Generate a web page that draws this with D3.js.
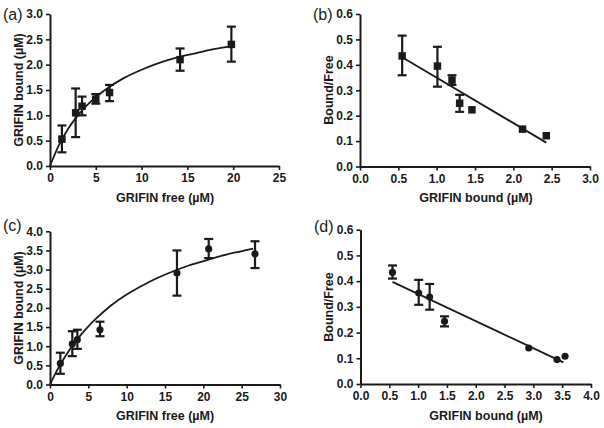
<!DOCTYPE html>
<html><head><meta charset="utf-8">
<script src="https://cdn.jsdelivr.net/npm/d3@7"></script>
<style>body{margin:0;background:#fff}svg{display:block}text{font-family:"Liberation Sans",Arial,sans-serif}</style>
</head><body>
<svg id="c" width="604" height="428"></svg>
<script>
// Panel (a): saturation binding, squares
const aX = [1.3, 2.8, 3.5, 5.0, 6.5, 14.2, 19.8];
const aY = [0.53, 1.05, 1.18, 1.32, 1.45, 2.10, 2.40];
const aLo = [0.27, 0.57, 1.00, 1.23, 1.28, 1.88, 2.06];
const aHi = [0.80, 1.53, 1.37, 1.42, 1.60, 2.32, 2.75];
const aFitX = [0, 1, 2, 3, 4, 5, 6, 8, 10, 12, 14, 16, 18, 20];
const aFitY = [0, 0.42, 0.74, 0.99, 1.19, 1.36, 1.50, 1.73, 1.90, 2.04, 2.15, 2.23, 2.31, 2.37];
const aXTicks = [0, 5, 10, 15, 20, 25];
const aYTicks = [0, 0.5, 1.0, 1.5, 2.0, 2.5, 3.0];

// Panel (b): Scatchard, squares
const bX = [0.55, 1.01, 1.20, 1.30, 1.46, 2.12, 2.43];
const bY = [0.435, 0.395, 0.340, 0.249, 0.223, 0.147, 0.121];
const bLo = [0.359, 0.314, 0.321, 0.215, null, null, null];
const bHi = [0.515, 0.471, 0.359, 0.282, null, null, null];
const bFitX = [0.55, 2.43];
const bFitY = [0.430, 0.094];
const bXTicks = [0, 0.5, 1.0, 1.5, 2.0, 2.5, 3.0];
const bYTicks = [0, 0.1, 0.2, 0.3, 0.4, 0.5, 0.6];

// Panel (c): saturation binding, circles
const cX = [1.35, 2.91, 3.57, 6.52, 16.56, 20.7, 26.74];
const cY = [0.55, 1.06, 1.17, 1.43, 2.91, 3.54, 3.41];
const cLo = [0.28, 0.74, 0.93, 1.26, 2.32, 3.30, 3.04];
const cHi = [0.83, 1.39, 1.43, 1.64, 3.50, 3.80, 3.74];
const cFitX = [0, 1, 2, 3, 4, 5, 6, 8, 10, 12, 14, 16, 18, 20, 22, 24, 26.5];
const cFitY = [0, 0.40, 0.74, 1.04, 1.29, 1.52, 1.72, 2.07, 2.35, 2.58, 2.78, 2.95, 3.10, 3.22, 3.34, 3.44, 3.55];
const cXTicks = [0, 5, 10, 15, 20, 25, 30];
const cYTicks = [0, 0.5, 1.0, 1.5, 2.0, 2.5, 3.0, 3.5, 4.0];

// Panel (d): Scatchard, circles
const dX = [0.555, 1.01, 1.20, 1.458, 2.92, 3.41, 3.55];
const dY = [0.434, 0.354, 0.338, 0.244, 0.140, 0.095, 0.108];
const dLo = [0.410, 0.308, 0.289, 0.224, null, null, null];
const dHi = [0.461, 0.405, 0.389, 0.263, null, null, null];
const dFitX = [0.555, 3.52];
const dFitY = [0.397, 0.084];
const dXTicks = [0, 0.5, 1.0, 1.5, 2.0, 2.5, 3.0, 3.5, 4.0];
const dYTicks = [0, 0.1, 0.2, 0.3, 0.4, 0.5, 0.6];

const svg = d3.select("#c");

const panels = [
  {lab:"(a)", xs:aX, ys:aY, lo:aLo, hi:aHi, fx:aFitX, fy:aFitY, xt:aXTicks, yt:aYTicks, xd:[0,25], yd:[0,3],
   xr:[50,279], yr:[166,14], fmtX:d3.format("d"), fmtY:d3.format(".1f"), mk:"square", smooth:true,
   xtitle:"GRIFIN free (\u00b5M)", ytitle:"GRIFIN bound (\u00b5M)", labPos:[3,20], xtPos:[165,202], ytPos:[19,90]},
  {lab:"(b)", xs:bX, ys:bY, lo:bLo, hi:bHi, fx:bFitX, fy:bFitY, xt:bXTicks, yt:bYTicks, xd:[0,3], yd:[0,0.6],
   xr:[360,590], yr:[166.5,14], fmtX:d3.format(".1f"), fmtY:d3.format(".1f"), mk:"square", smooth:false,
   xtitle:"GRIFIN bound (\u00b5M)", ytitle:"Bound/Free", labPos:[313,20], xtPos:[476,202], ytPos:[329,90]},
  {lab:"(c)", xs:cX, ys:cY, lo:cLo, hi:cHi, fx:cFitX, fy:cFitY, xt:cXTicks, yt:cYTicks, xd:[0,30], yd:[0,4],
   xr:[50,280], yr:[384.5,231.3], fmtX:d3.format("d"), fmtY:d3.format(".1f"), mk:"circle", smooth:true,
   xtitle:"GRIFIN free (\u00b5M)", ytitle:"GRIFIN bound (\u00b5M)", labPos:[3,231], xtPos:[165,420], ytPos:[19,308]},
  {lab:"(d)", xs:dX, ys:dY, lo:dLo, hi:dHi, fx:dFitX, fy:dFitY, xt:dXTicks, yt:dYTicks, xd:[0,4], yd:[0,0.6],
   xr:[360.5,591], yr:[384,229.7], fmtX:d3.format(".1f"), fmtY:d3.format(".1f"), mk:"circle", smooth:false,
   xtitle:"GRIFIN bound (\u00b5M)", ytitle:"Bound/Free", labPos:[314,232], xtPos:[486,420], ytPos:[329,307]}
];

panels.forEach(p => {
  const x = d3.scaleLinear().domain(p.xd).range(p.xr);
  const y = d3.scaleLinear().domain(p.yd).range(p.yr);
  const g = svg.append("g");

  const xa = g.append("g").attr("transform", `translate(0,${p.yr[0]})`)
    .call(d3.axisBottom(x).tickValues(p.xt).tickFormat(p.fmtX).tickSize(4).tickSizeOuter(0));
  const ya = g.append("g").attr("transform", `translate(${p.xr[0]},0)`)
    .call(d3.axisLeft(y).tickValues(p.yt).tickFormat(p.fmtY).tickSize(4).tickSizeOuter(0));
  [xa, ya].forEach(a => {
    a.select(".domain").attr("stroke", "#1a1a1a").attr("stroke-width", 2);
    a.selectAll(".tick line").attr("stroke", "#1a1a1a").attr("stroke-width", 1.6);
    a.selectAll(".tick text").attr("fill", "#1a1a1a").attr("font-size", 12).attr("font-weight", "bold")
      .attr("font-family", "'Liberation Sans', Arial, sans-serif");
  });
  xa.selectAll(".tick text").attr("dy", "0.85em").attr("y", 6);
  ya.selectAll(".tick text").attr("x", -7);

  // fit line
  const line = d3.line().x(d => x(d[0])).y(d => y(d[1]));
  if (p.smooth) line.curve(d3.curveMonotoneX);
  g.append("path").datum(p.fx.map((v, i) => [v, p.fy[i]]))
    .attr("d", line).attr("fill", "none").attr("stroke", "#1a1a1a").attr("stroke-width", 1.8);

  // error bars
  const cap = 4.5;
  p.xs.forEach((xv, i) => {
    if (p.lo[i] == null) return;
    const cx = x(xv), y1 = y(p.lo[i]), y2 = y(p.hi[i]);
    g.append("line").attr("x1", cx).attr("x2", cx).attr("y1", y1).attr("y2", y2)
      .attr("stroke", "#1a1a1a").attr("stroke-width", 2.2);
    [y1, y2].forEach(yy => g.append("line").attr("x1", cx - cap).attr("x2", cx + cap).attr("y1", yy).attr("y2", yy)
      .attr("stroke", "#1a1a1a").attr("stroke-width", 2.2));
  });

  // markers
  const sym = d3.symbol().type(p.mk === "square" ? d3.symbolSquare : d3.symbolCircle).size(p.mk === "square" ? 56 : 40);
  p.xs.forEach((xv, i) => {
    g.append("path").attr("d", sym()).attr("transform", `translate(${x(xv)},${y(p.ys[i])})`).attr("fill", "#1a1a1a");
  });

  // titles
  g.append("text").attr("x", p.xtPos[0]).attr("y", p.xtPos[1]).attr("text-anchor", "middle")
    .attr("font-size", 12.5).attr("font-weight", "bold").attr("fill", "#1a1a1a").text(p.xtitle);
  g.append("text").attr("transform", `translate(${p.ytPos[0]},${p.ytPos[1]}) rotate(-90)`).attr("text-anchor", "middle")
    .attr("dy", "0.35em").attr("font-size", 12.5).attr("font-weight", "bold").attr("fill", "#1a1a1a").text(p.ytitle);
  g.append("text").attr("x", p.labPos[0]).attr("y", p.labPos[1]).attr("font-size", 16)
    .attr("fill", "#1a1a1a").text(p.lab);
});
</script>
</body></html>
